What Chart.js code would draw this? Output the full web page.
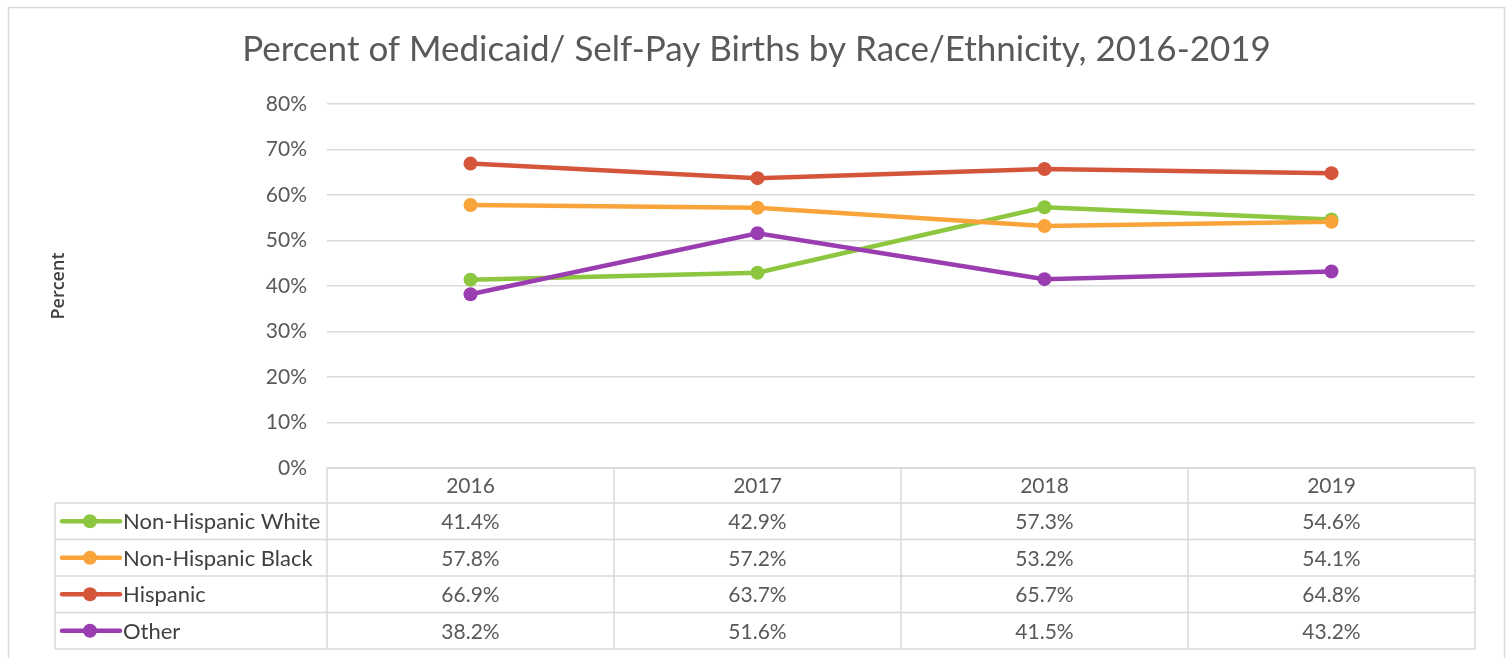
<!DOCTYPE html>
<html>
<head>
<meta charset="utf-8">
<script src="https://cdn.jsdelivr.net/npm/chart.js@4.4.0/dist/chart.umd.min.js"></script>
<style>
  html, body { margin: 0; padding: 0; background: #fff; }
  #wrap { width: 1511px; height: 658px; position: relative; }
</style>
</head>
<body>
<div id="wrap"><canvas id="myChart" width="1511" height="658"></canvas></div>
<script>
const chartTitle = "Percent of Medicaid/ Self-Pay Births by Race/Ethnicity, 2016-2019";
const years = ["2016", "2017", "2018", "2019"];
const seriesNames = ["Non-Hispanic White", "Non-Hispanic Black", "Hispanic", "Other"];
const whiteVals = [41.4, 42.9, 57.3, 54.6];
const blackVals = [57.8, 57.2, 53.2, 54.1];
const hispanicVals = [66.9, 63.7, 65.7, 64.8];
const otherVals = [38.2, 51.6, 41.5, 43.2];
const lineColors = ["#8dc63f", "#f9a43b", "#d4553a", "#9a3db0"];

const textColor = "#595959";
const gridColor = "#d9d9d9";
const fontFamily = "Lato, 'Open Sans', sans-serif";

const allVals = [whiteVals, blackVals, hispanicVals, otherVals];

function makeSet(i) {
  return {
    label: seriesNames[i],
    data: allVals[i],
    borderColor: lineColors[i],
    backgroundColor: lineColors[i],
    borderWidth: 4.5,
    pointRadius: 7,
    pointHoverRadius: 7,
    pointBorderWidth: 0,
    tension: 0,
    // later series sit on top
    order: 3 - i,
  };
}

// outer frame and title, centred in the frame
const frame = {
  id: "frame",
  beforeDraw(chart) {
    const ctx = chart.ctx;
    const frameL = 8.5, frameW = 1496;
    ctx.save();
    ctx.strokeStyle = gridColor;
    ctx.lineWidth = 1.5;
    ctx.strokeRect(frameL, 7.5, frameW, 700);

    ctx.fillStyle = textColor;
    ctx.font = "35px " + fontFamily;
    ctx.textAlign = "center";
    ctx.textBaseline = "middle";
    ctx.fillText(chartTitle, frameL + frameW / 2, 50);
    ctx.restore();
  },
};

// data table under the plot, with legend keys in the first column
const dataTable = {
  id: "dataTable",
  afterDraw(chart) {
    const ctx = chart.ctx;
    const xs = chart.scales.x;
    const area = chart.chartArea;
    const colW = (area.right - area.left) / years.length;
    const top = area.bottom;
    const headH = 35;
    const rowH = 36.5;
    const legLeft = 55;
    const bottom = top + headH + rowH * seriesNames.length;

    ctx.save();
    ctx.strokeStyle = gridColor;
    ctx.lineWidth = 1.5;

    // horizontal lines
    ctx.beginPath();
    ctx.moveTo(area.left, top);
    ctx.lineTo(area.right, top);
    for (let r = 0; r <= seriesNames.length; r++) {
      const y = top + headH + r * rowH;
      ctx.moveTo(legLeft, y);
      ctx.lineTo(area.right, y);
    }
    // vertical lines
    for (let c = 0; c <= years.length; c++) {
      const x = area.left + c * colW;
      ctx.moveTo(x, top);
      ctx.lineTo(x, bottom);
    }
    ctx.moveTo(legLeft, top + headH);
    ctx.lineTo(legLeft, bottom);
    ctx.stroke();

    ctx.font = "21px " + fontFamily;
    ctx.fillStyle = textColor;
    ctx.textAlign = "center";
    ctx.textBaseline = "middle";
    years.forEach((yr, i) => {
      ctx.fillText(yr, xs.getPixelForValue(i), top + headH / 2 + 1);
    });

    seriesNames.forEach((name, r) => {
      const cy = top + headH + r * rowH + rowH / 2;
      // legend key
      ctx.strokeStyle = lineColors[r];
      ctx.lineWidth = 4.5;
      ctx.lineCap = "round";
      ctx.beginPath();
      ctx.moveTo(62, cy);
      ctx.lineTo(120, cy);
      ctx.stroke();
      ctx.fillStyle = lineColors[r];
      ctx.beginPath();
      ctx.arc(90, cy, 7, 0, Math.PI * 2);
      ctx.fill();

      ctx.fillStyle = "#404040";
      ctx.textAlign = "left";
      ctx.font = "22px " + fontFamily;
      ctx.fillText(name, 123, cy + 1);

      ctx.fillStyle = textColor;
      ctx.textAlign = "center";
      ctx.font = "21px " + fontFamily;
      allVals[r].forEach((v, i) => {
        ctx.fillText(v.toFixed(1) + "%", xs.getPixelForValue(i), cy + 1);
      });
    });
    ctx.restore();
  },
};

new Chart("myChart", {
  type: "line",
  data: {
    labels: years,
    datasets: [0, 1, 2, 3].map(makeSet),
  },
  plugins: [frame, dataTable],
  options: {
    responsive: false,
    animation: false,
    layout: {
      padding: { left: 8, right: 36, top: 104, bottom: 182 },
    },
    plugins: {
      legend: { display: false },
      tooltip: { enabled: false },
      title: { display: false },
    },
    scales: {
      x: {
        offset: true,
        grid: { display: false },
        border: { display: false },
        ticks: { display: false },
      },
      y: {
        min: 0,
        max: 80,
        afterFit(scale) {
          scale.width = 319;
        },
        ticks: {
          stepSize: 10,
          padding: 20,
          color: textColor,
          font: { family: fontFamily, size: 21 },
          callback: (v) => v + "%",
        },
        grid: { color: gridColor, lineWidth: 1.5, drawTicks: false },
        border: { display: false },
        title: {
          display: true,
          text: "Percent",
          color: "#404040",
          font: { family: "'Open Sans', sans-serif", size: 18, weight: "600" },
          padding: { top: 40, bottom: 0 },
        },
      },
    },
  },
});
</script>
</body>
</html>
